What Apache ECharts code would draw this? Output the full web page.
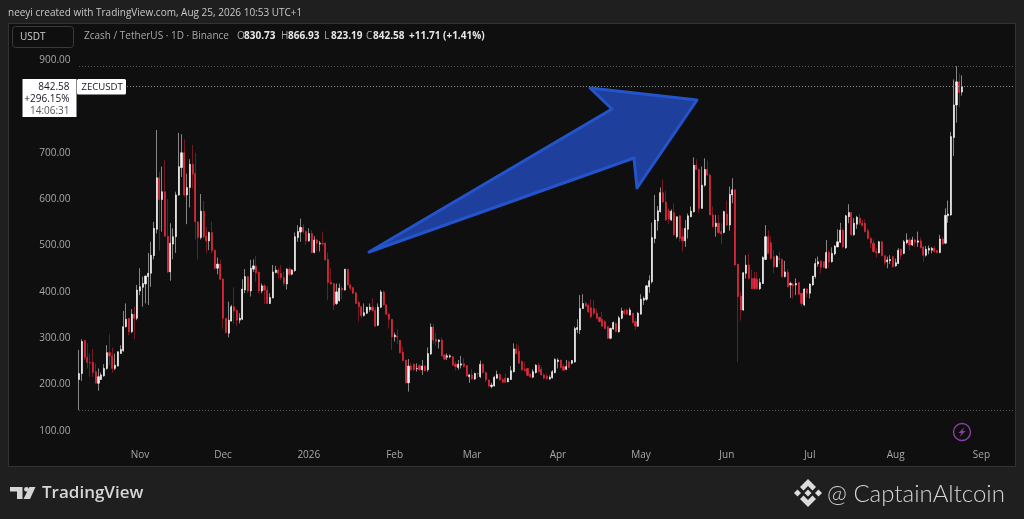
<!DOCTYPE html>
<html><head><meta charset="utf-8">
<style>html,body{margin:0;padding:0;background:#1f1f1f}#c{width:1024px;height:519px}</style>
<script src="https://cdn.jsdelivr.net/npm/echarts@6/dist/echarts.min.js"></script>
</head><body><div id="c"></div>
<script>
const startDate='2025-10-10';
const padBefore=25, padAfter=19;
const monthTicks={'2025-11-01':'Nov','2025-12-01':'Dec','2026-01-01':'2026','2026-02-01':'Feb','2026-03-01':'Mar','2026-04-01':'Apr','2026-05-01':'May','2026-06-01':'Jun','2026-07-01':'Jul','2026-08-01':'Aug','2026-09-01':'Sep'};
const priceTicks=[100,200,300,400,500,600,700,800,900];
const opens=[211,224,295,259,248,248,228,203,211,219,235,269,262,235,240,267,273,325,343,314,352,343,402,410,417,433,440,478,535,646,599,616,520,443,503,519,609,668,700,609,625,675,655,551,517,574,520,510,528,490,451,460,428,343,311,337,368,360,339,341,404,433,402,449,456,443,402,413,404,375,387,442,447,440,431,417,449,438,446,517,529,539,530,510,526,485,512,503,505,505,470,421,418,375,381,408,404,449,415,409,398,377,368,349,354,362,367,360,328,367,400,372,352,341,303,305,296,270,253,204,240,244,234,241,232,240,232,266,324,298,293,296,264,259,260,260,244,237,242,245,241,217,221,212,224,217,244,226,210,196,197,214,222,211,214,206,211,228,277,272,250,233,235,223,216,226,242,233,221,218,212,215,226,250,253,239,233,249,246,249,319,318,364,375,371,366,364,354,345,341,336,325,300,320,332,314,343,359,361,350,354,336,326,352,382,384,411,422,515,553,573,614,594,575,555,571,519,564,519,510,535,562,573,673,664,580,630,664,652,566,541,548,530,528,568,544,609,620,460,391,361,440,458,429,429,427,407,418,470,519,506,476,454,472,470,433,443,415,417,415,420,397,372,406,397,415,433,460,466,465,451,485,465,482,497,507,533,495,562,571,523,546,559,548,548,532,515,505,487,484,508,478,465,467,476,456,461,492,483,506,512,501,512,507,510,497,479,490,490,494,489,485,514,505,564,566,733,803,853,830.73];
const highs=[275,298,296,289,267,277,246,235,226,244,285,309,280,267,271,285,359,375,343,363,369,415,451,433,436,484,508,551,749,659,670,684,600,548,537,616,743,740,729,655,686,717,700,551,611,596,540,530,551,490,474,470,428,343,379,372,410,362,354,427,449,433,469,470,477,443,418,418,413,397,458,456,451,458,443,451,454,449,528,544,558,546,533,537,533,520,515,510,530,506,485,451,418,418,418,413,449,449,418,411,400,381,370,375,368,375,386,367,375,404,403,373,354,341,312,319,296,282,253,255,247,246,246,244,253,242,280,332,331,311,298,302,265,267,265,262,250,253,262,257,242,223,233,226,226,252,246,228,211,204,219,230,224,216,224,214,240,289,288,285,252,250,235,223,233,244,247,239,224,224,220,231,257,257,254,244,253,252,253,325,341,393,395,379,375,384,382,364,346,357,339,326,323,336,334,348,366,363,364,366,355,343,357,395,390,415,436,549,609,585,625,643,618,580,578,591,562,566,537,555,569,584,690,686,666,670,688,683,656,584,566,566,548,575,597,627,645,621,460,400,443,479,482,448,443,443,429,477,544,533,520,490,479,487,472,467,449,422,420,429,422,398,408,409,418,434,472,476,469,465,512,490,496,501,535,549,537,566,589,573,559,564,568,556,556,537,519,513,494,510,510,479,476,479,477,472,494,494,512,526,517,519,515,530,517,499,499,500,497,499,490,523,519,580,597,745,858,887,871,866.93];
const lows=[145,208,253,235,217,217,203,187,210,217,232,242,226,231,239,267,271,323,307,311,298,339,393,368,375,372,411,470,526,489,530,519,440,424,470,484,607,648,605,546,582,623,513,470,513,515,483,490,483,447,438,426,321,311,302,336,331,326,332,339,397,397,390,443,422,397,397,374,374,374,386,440,429,426,413,405,434,436,443,508,508,526,501,508,483,483,487,487,499,467,382,415,361,372,379,384,403,413,403,395,374,336,343,347,352,357,357,325,326,365,370,350,321,275,293,288,267,250,203,185,230,230,228,230,221,228,228,264,288,283,278,260,253,253,257,241,230,232,235,237,217,204,211,210,214,214,224,206,194,192,196,212,209,203,203,205,210,226,266,245,230,228,219,214,214,224,226,219,211,211,210,213,224,235,235,231,231,235,244,247,311,309,363,368,355,343,350,341,334,325,319,298,298,318,313,312,341,350,350,349,332,318,325,351,372,381,398,418,505,532,571,592,553,546,553,521,515,508,487,497,515,561,571,663,571,580,627,650,566,539,519,526,503,526,542,532,591,456,249,338,359,429,427,406,404,404,404,417,469,482,469,440,453,460,431,431,410,387,386,393,393,368,369,388,386,413,429,454,440,451,451,451,463,479,496,505,494,493,548,521,521,536,544,541,528,513,494,485,474,483,476,458,451,460,453,454,460,470,481,503,489,499,497,497,494,465,476,481,483,485,483,483,501,503,549,564,693,765,798,823.19];
const closes=[224,293,259,248,247,226,203,217,221,235,269,262,235,242,271,276,325,341,314,352,343,404,411,418,434,440,479,537,646,599,616,520,443,505,519,609,670,700,609,625,675,654,551,517,574,519,510,528,489,451,460,427,343,312,339,368,359,339,343,406,433,402,451,456,441,402,413,404,375,388,443,447,440,431,418,449,438,447,519,530,539,530,510,526,485,512,505,505,503,469,420,417,372,400,408,404,449,415,408,397,375,368,349,355,367,367,360,326,367,400,372,352,341,303,307,302,269,252,204,240,232,232,235,232,240,230,267,324,296,293,296,262,255,262,262,242,239,244,245,239,219,221,212,224,223,244,226,210,197,199,216,222,210,205,205,214,230,277,267,246,232,230,220,217,228,242,228,221,214,213,216,228,254,253,237,231,239,237,252,321,323,364,375,369,357,346,354,343,336,326,321,300,321,334,314,344,359,354,352,361,334,326,354,384,386,413,424,517,555,575,614,594,555,557,574,523,562,515,510,537,564,574,673,664,580,630,664,652,566,541,548,528,525,573,544,610,620,458,390,361,441,458,429,407,407,407,420,474,519,483,472,454,477,470,433,443,411,418,413,418,395,375,406,397,417,434,461,465,453,453,485,465,483,499,508,533,497,564,571,523,548,561,548,543,530,515,505,487,484,508,478,463,469,470,454,463,490,479,508,512,501,512,507,510,495,479,492,494,494,487,485,514,503,565,568,735,803,853,830,842.58];
const lastPrice=842.58, highLevel=887, lowLevel=145;
const arrowPoints=[[369,252],[612,109],[590,88],[697,100],[637,188],[634,158]];

const T=319+padBefore+padAfter+1;
const categories=[];
{ const base=Date.parse(startDate+'T00:00:00Z')-padBefore*864e5;
  for(let i=0;i<T;i++) categories.push(new Date(base+i*864e5).toISOString().slice(0,10)); }
const pad=a=>Array(padBefore).fill('-').concat(a,Array(padAfter).fill('-'));
const wickData=pad(opens.map((o,i)=>[o,closes[i],lows[i],highs[i]]));
const bodyData=pad(opens.map((o,i)=>[o,closes[i],Math.min(o,closes[i]),Math.max(o,closes[i])]));
const UP='#f7f7f7',DN='#ea2a3e';
const FONT='"Open Sans",Roboto,sans-serif';
const t=(x,y,text,fill,size,weight,align,font)=>({type:'text',z:50,x,y,style:{text,fill,font:(weight||400)+' '+size+'px '+(font||FONT),textAlign:align||'left',textVerticalAlign:'middle'}});
const poly=(pts,fill)=>({type:'polygon',z:50,shape:{points:pts},style:{fill}});
const LOGO='#d6d6d6';
const hdr=[[237,'O',0],[244,'830.73',1],[281,'H',0],[288,'866.93',1],[324,'L',0],[331,'823.19',1],[366,'C',0],[373,'842.58',1],[409,'+11.71 (+1.41%)',1]];
const chart=echarts.init(document.getElementById('c'),null,{renderer:'canvas'});
chart.setOption({
 animation:false,
 backgroundColor:'#1f1f1f',
 grid:{left:8.5,width:1007.55,top:60,height:371,containLabel:false},
 xAxis:{type:'category',data:categories,boundaryGap:true,
  axisLine:{show:false},axisTick:{show:false},splitLine:{show:false},
  axisLabel:{color:'#a8a8a8',fontFamily:FONT,fontSize:10,margin:19,
   interval:(i,v)=>v in monthTicks,formatter:v=>monthTicks[v]||''}},
 yAxis:{type:'value',min:100,max:900,interval:100,position:'left',offset:-66,
  axisLine:{show:false},axisTick:{show:false},splitLine:{show:false},
  axisLabel:{color:'#a8a8a8',fontFamily:FONT,fontSize:10,margin:4,padding:[2,0,0,0],formatter:v=>priceTicks.includes(v)?v.toFixed(2):''}},
 series:[
  {type:'candlestick',name:'wick',data:wickData,barWidth:1,clip:false,z:3,silent:true,
   itemStyle:{color:'rgba(255,255,255,0.5)',color0:'rgba(232,40,60,0.45)',borderColor:'rgba(255,255,255,0.5)',borderColor0:'rgba(232,40,60,0.45)',borderWidth:1},
   markLine:{silent:true,symbol:'none',animation:false,label:{show:false},
    lineStyle:{type:[1,2],color:'#5a5a5a',width:1},
    data:[
     [{coord:[categories[padBefore],highLevel]},{coord:[categories[T-1],highLevel]}],
     [{coord:[categories[padBefore],lowLevel]},{coord:[categories[T-1],lowLevel]}],
     [{coord:[categories[padBefore],lastPrice],lineStyle:{color:'#9a9a9a'}},{coord:[categories[T-1],lastPrice],lineStyle:{color:'#9a9a9a'}}]
    ]}},
  {type:'candlestick',name:'body',data:bodyData,barWidth:1.6,clip:false,z:4,silent:true,
   itemStyle:{color:UP,color0:DN,borderColor:UP,borderColor0:DN,borderWidth:0.6}}
 ],
 graphic:{elements:[
  {type:'rect',z:-1,silent:true,shape:{x:8.5,y:23.5,width:1007,height:443},style:{fill:'#0f0f0f',stroke:'#333',lineWidth:1}},
  t(8,13,'neeyi created with TradingView.com, Aug 25, 2026 10:53 UTC+1','#c8c8c8',10,500),
  {type:'rect',z:50,shape:{x:12.5,y:26.5,width:61,height:21,r:3},style:{fill:'transparent',stroke:'#3a3a3a',lineWidth:1}},
  t(20,37,'USDT','#d0d0d0',10,400),
  t(84,36.5,'Zcash / TetherUS · 1D · Binance','#a9a9a9',10,400),
  ...hdr.map(h=>t(h[0],36.5,h[1],h[2]?'#e6e6e6':'#a9a9a9',10,h[2]?700:400)),
  {type:'polygon',z:40,shape:{points:arrowPoints},style:{fill:'#1f3f9c',stroke:'#2454cc',lineWidth:3,lineJoin:'round'}},
  {type:'rect',z:50,shape:{x:22.5,y:79,width:54,height:38},style:{fill:'#ffffff'}},
  {type:'rect',z:50,shape:{x:77,y:79,width:49,height:15.5,r:1.5},style:{fill:'#ffffff'}},
  t(69.5,87.5,'842.58','#131722',10,400,'right'),
  t(69.5,99.5,'+296.15%','#131722',10,400,'right'),
  t(69.5,111,'14:06:31','#555',10,400,'right'),
  t(81.5,87.5,'ZECUSDT','#131722',9.6,400),
  {type:'circle',z:50,shape:{cx:962,cy:432,r:8.5},style:{fill:'transparent',stroke:'#8a3fa3',lineWidth:1.4}},
  poly([[964.5,427],[958.5,433],[961.5,433],[959.5,437],[965.5,431],[962.5,431]],'#8a3fa3'),
  poly([[10,487],[22.5,487],[22.5,499],[17,499],[17,491.5],[10,491.5]],LOGO),
  {type:'circle',z:50,shape:{cx:26.5,cy:489.3,r:2.4},style:{fill:LOGO}},
  poly([[29.5,487],[35.5,487],[30,499],[23.5,499]],LOGO),
  t(42,493,'TradingView','#d6d6d6',17,600),
  poly([[808,479],[816,487],[812.5,490.5],[808,486],[803.5,490.5],[800,487]],'#dcdcdc'),
  poly([[808,507],[800,499],[803.5,495.5],[808,500],[812.5,495.5],[816,499]],'#dcdcdc'),
  poly([[794,493],[797.5,489.5],[801,493],[797.5,496.5]],'#dcdcdc'),
  poly([[815,493],[818.5,489.5],[822,493],[818.5,496.5]],'#dcdcdc'),
  poly([[808,489.5],[811.5,493],[808,496.5],[804.5,493]],'#dcdcdc'),
  t(827,494,'@ CaptainAltcoin','#d4d4d4',24,300,'left','Lato,"Open Sans",sans-serif')
 ]}
});
</script></body></html>
